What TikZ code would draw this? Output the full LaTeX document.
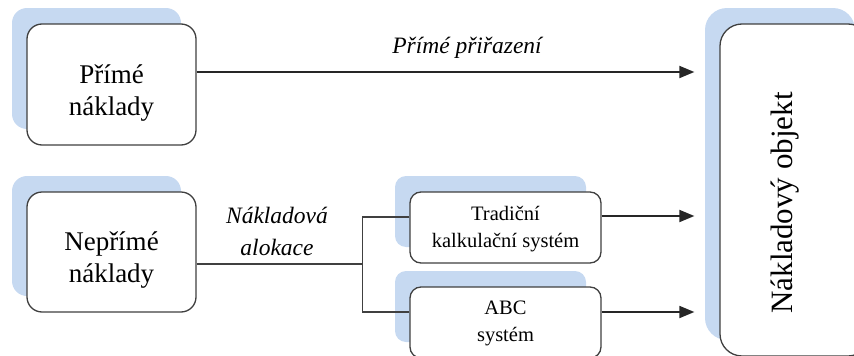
\documentclass[tikz,border=0pt]{standalone}
\usepackage{fontspec}
\setmainfont{Liberation Serif}
\usetikzlibrary{arrows.meta,calc}
\definecolor{shade}{RGB}{198,217,241}
\definecolor{edge}{RGB}{64,64,64}

\begin{document}
\begin{tikzpicture}[x=1pt,y=-1pt,
  halo/.style={fill=shade,draw=none,inner sep=0pt,rounded corners=#1},
  panel/.style={draw=edge,line width=1.3pt,fill=white,inner sep=0pt,rounded corners=#1},
  big/.style={font=\fontsize{27}{32}\selectfont,inner sep=0pt,anchor=base},
  small/.style={font=\fontsize{20.5}{27}\selectfont,inner sep=0pt,anchor=base},
  lbl/.style={font=\fontsize{23.5}{30}\selectfont\itshape,inner sep=0pt,anchor=base},
  conn/.style={draw=edge,line width=1.3pt},
  arr/.style={draw=black!85,line width=1.8pt,-{Triangle[length=15pt,width=12pt]},shorten >=25pt}
]
\clip (0,0) rectangle (854,356);

% blue offset backgrounds
\node[halo=15pt,minimum width=169pt,minimum height=121pt] (s1) at (96.5,68.5) {};
\node[halo=15pt,minimum width=169pt,minimum height=120pt] (s2) at (96.5,236) {};
\node[halo=11pt,minimum width=191pt,minimum height=71pt] (s3) at (490.5,211.5) {};
\node[halo=11pt,minimum width=191pt,minimum height=71pt] (s4) at (490.5,306.5) {};
\node[halo=22pt,minimum width=150pt,minimum height=332pt] (sobj) at (780,174) {};

% boxes
\node[panel=15pt,minimum width=169pt,minimum height=121pt] (b1) at (111.5,84.5) {};
\node[panel=15pt,minimum width=169pt,minimum height=120pt] (b2) at (111.5,252) {};
\node[panel=11pt,minimum width=191pt,minimum height=71pt] (b3) at (505.5,227.5) {};
\node[panel=11pt,minimum width=191pt,minimum height=71pt] (b4) at (505.5,322.5) {};
\node[panel=22pt,minimum width=150pt,minimum height=332pt] (obj) at (795,190) {};

% box texts
\node[big] (t1a) at (111.5,83) {Přímé};
\node[big] (t1b) at (111.5,115) {náklady};
\node[big] (t2a) at (111.5,250) {Nepřímé};
\node[big] (t2b) at (111.5,282) {náklady};
\node[small] (t3a) at (505.5,220) {Tradiční};
\node[small] (t3b) at (505.5,247) {kalkulační systém};
\node[small] (t4a) at (505.5,314) {ABC};
\node[small] (t4b) at (505.5,341) {systém};
\node[font=\fontsize{31}{36}\selectfont,inner sep=0pt,anchor=base,rotate=90] (tobj) at (792,203) {Nákladový objekt};

% connector labels
\node[lbl] (l1) at (467,53) {Přímé přiřazení};
\node[lbl] (l2a) at (277,223) {Nákladová};
\node[lbl] (l2b) at (277,255) {alokace};

% connection points
\coordinate (o1) at ($(b1.east)+(0,-12.5)$);
\coordinate (o2) at ($(b2.east)+(0,12)$);
\coordinate (j) at ($(o2)+(166,0)$);
\coordinate (i3) at ($(b3.west)+(0,-10.5)$);
\coordinate (i4) at ($(b4.west)+(0,-10.5)$);
\coordinate (r3) at ($(b3.east)+(0,-11.5)$);
\coordinate (r4) at ($(b4.east)+(0,-10.5)$);

% connectors
\draw[arr] (o1) -- (o1 -| obj.west);
\draw[conn] (o2) -- (j);
\draw[conn] (i3) -| (j) |- (i4);
\draw[arr] (r3) -- (r3 -| obj.west);
\draw[arr] (r4) -- (r4 -| obj.west);
\end{tikzpicture}
\end{document}
